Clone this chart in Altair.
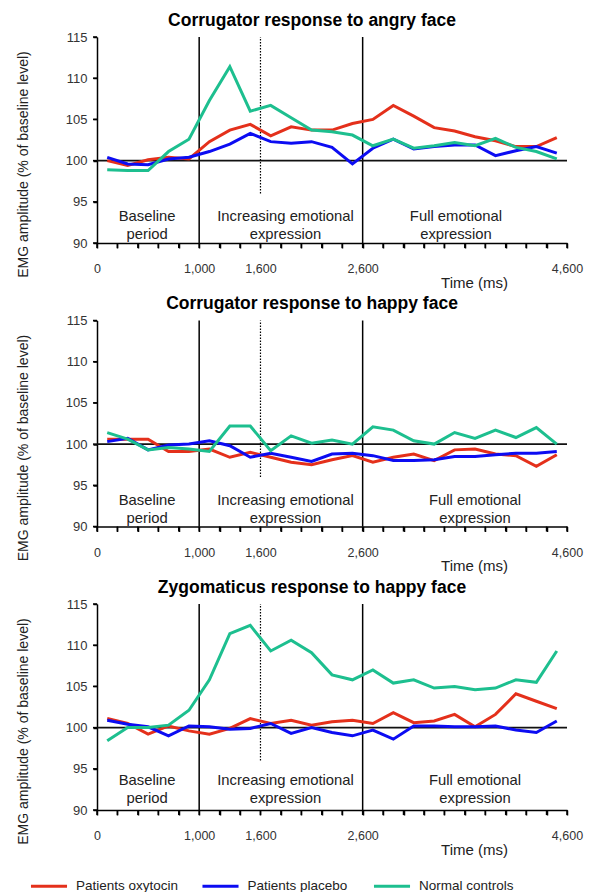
import altair as alt
import pandas as pd

# Sample times (ms) of the averaged EMG windows
time_ms = [100, 300, 500, 700, 900, 1100, 1300, 1500, 1700, 1900, 2100, 2300,
           2500, 2700, 2900, 3100, 3300, 3500, 3700, 3900, 4100, 4300, 4500]

groups = ["Patients oxytocin", "Patients placebo", "Normal controls"]
group_colors = ["#e4301b", "#0c0cf2", "#1dbf8f"]

# Corrugator response to angry face
angry_oxytocin = [100.0, 99.4, 100.1, 100.4, 100.2, 102.3, 103.7, 104.4, 103.0, 104.1, 103.7, 103.7,
                  104.5, 105.0, 106.7, 105.4, 104.0, 103.6, 102.9, 102.4, 101.7, 101.7, 102.8]
angry_placebo = [100.4, 99.6, 99.5, 100.2, 100.4, 101.1, 102.0, 103.3, 102.3, 102.1, 102.3, 101.6,
                 99.6, 101.5, 102.6, 101.4, 101.7, 101.9, 101.9, 100.6, 101.2, 101.7, 100.9]
angry_controls = [98.9, 98.8, 98.8, 101.1, 102.6, 107.3, 111.4, 106.0, 106.7, 105.2, 103.7, 103.5,
                  103.1, 101.8, 102.6, 101.5, 101.8, 102.2, 101.8, 102.7, 101.6, 101.1, 100.2]

# Corrugator response to happy face
happy_corr_oxytocin = [100.6, 100.6, 100.6, 99.1, 99.1, 99.4, 98.4, 99.0, 98.4, 97.8, 97.5, 98.1,
                       98.6, 97.8, 98.4, 98.8, 98.0, 99.3, 99.4, 98.8, 98.6, 97.3, 98.7]
happy_corr_placebo = [100.3, 100.7, 99.3, 99.9, 100.0, 100.4, 99.8, 98.4, 98.9, 98.4, 97.9, 98.8,
                      98.9, 98.6, 98.0, 98.0, 98.1, 98.5, 98.5, 98.7, 98.9, 98.9, 99.1]
happy_corr_controls = [101.4, 100.6, 99.3, 99.6, 99.4, 99.1, 102.2, 102.2, 99.2, 101.0, 100.1, 100.5,
                       100.0, 102.1, 101.7, 100.4, 100.0, 101.4, 100.7, 101.7, 100.8, 102.0, 100.0]

# Zygomaticus response to happy face
happy_zyg_oxytocin = [101.1, 100.5, 99.2, 100.2, 99.6, 99.2, 99.9, 101.1, 100.5, 100.9, 100.3, 100.7,
                      100.9, 100.5, 101.8, 100.6, 100.8, 101.6, 100.1, 101.6, 104.1, 103.2, 102.3]
happy_zyg_placebo = [100.9, 100.4, 100.1, 99.0, 100.2, 100.1, 99.8, 99.9, 100.5, 99.3, 100.0, 99.4,
                     99.0, 99.7, 98.6, 100.2, 100.2, 100.1, 100.1, 100.2, 99.7, 99.4, 100.8]
happy_zyg_controls = [98.4, 100.0, 100.0, 100.3, 102.1, 105.8, 111.4, 112.4, 109.3, 110.6, 109.1, 106.4,
                      105.8, 107.0, 105.4, 105.8, 104.8, 105.0, 104.6, 104.8, 105.8, 105.5, 109.3]

panel_titles = ["Corrugator response to angry face",
                "Corrugator response to happy face",
                "Zygomaticus response to happy face"]

# Phase captions and their anchor points (time, amplitude) per panel
phase_labels = ["Baseline\nperiod", "Increasing emotional\nexpression", "Full emotional\nexpression"]
phase_label_times = [[490, 1845, 3513], [490, 1845, 3700], [490, 1845, 3700]]
phase_label_amps = [93.2, 93.1, 93.5]

x_label_values = [0, 1000, 1600, 2600, 4600]
x_tick_values = list(range(0, 4601, 200))
y_tick_values = [90, 95, 100, 105, 110, 115]
phase_bounds = [1000, 2600]
midpoint_ms = 1600

FONT = "Liberation Sans"
INK = "#222222"
W, H = 470, 206

label_list = "[" + ",".join(str(v) for v in x_label_values) + "]"
X_AXIS = alt.Axis(
    values=x_tick_values,
    labelExpr=f"indexof({label_list}, datum.value) >= 0 ? format(datum.value, ',') : ''",
    title="Time (ms)", titleX=377, titleY=39, titleBaseline="middle", titleAnchor="start",
    titleAlign="center", titleFontSize=15, titleFontWeight="normal", titleFont=FONT, titleColor=INK,
    labelFont=FONT, labelFontSize=12.5, labelColor="#333333", labelPadding=14.5, labelFlush=False,
    labelOverlap=False, labelBound=False, ticks=True, tickSize=5, tickColor="#000000",
    tickWidth=1.5, tickOpacity=1, domainColor="#000000", domainWidth=1.5, grid=False,
)
Y_AXIS = alt.Axis(
    values=y_tick_values, title="EMG amplitude (% of baseline level)", titleX=-74, titleY=127,
    titleAngle=-90, titleAlign="center", titleBaseline="middle", titleAnchor="start",
    titleFontSize=14, titleFontWeight="normal", titleFont=FONT, titleColor=INK,
    labelFont=FONT, labelFontSize=13, labelColor="#333333", labelPadding=6, labelOverlap=False,
    ticks=True, tickSize=4, tickColor="#000000", tickWidth=1.5, tickOpacity=1,
    domainColor="#000000", domainWidth=1.5, grid=False,
)
X_SCALE = alt.Scale(domain=[0, 4600], nice=False, zero=False)
Y_SCALE = alt.Scale(domain=[90, 115], nice=False, zero=False)


def xq(field="time"):
    return alt.X(f"{field}:Q", scale=X_SCALE, axis=X_AXIS)


def yq(field="amp"):
    return alt.Y(f"{field}:Q", scale=Y_SCALE, axis=Y_AXIS)


def make_panel(title, series, label_times, label_amp):
    rows = []
    for g, vals in zip(groups, series):
        for t, v in zip(time_ms, vals):
            rows.append({"time": t, "amp": v, "group": g})
    df = pd.DataFrame(rows)

    # short tick marks hanging below the time axis and left of the amplitude axis
    x_ticks = alt.Chart(pd.DataFrame({"time": x_tick_values, "amp": [90] * len(x_tick_values)})).mark_tick(
        orient="vertical", size=5, thickness=1.5, yOffset=2.5, color="#000", opacity=1
    ).encode(x=xq(), y=yq())
    y_ticks = alt.Chart(pd.DataFrame({"time": [0] * len(y_tick_values), "amp": y_tick_values})).mark_tick(
        orient="horizontal", size=4, thickness=1.5, xOffset=-2, color="#000", opacity=1
    ).encode(x=xq(), y=yq())

    baseline = alt.Chart(pd.DataFrame({"amp": [100]})).mark_rule(
        color="#111", strokeWidth=1.8
    ).encode(y=yq())

    bounds = alt.Chart(pd.DataFrame({"time": phase_bounds})).mark_rule(
        color="#000", strokeWidth=1.5
    ).encode(x=xq())

    midline = alt.Chart(pd.DataFrame({"time": [midpoint_ms], "amp": [96], "amp_top": [115]})).mark_rule(
        color="#000", strokeWidth=1.2, strokeDash=[1.5, 1.5]
    ).encode(x=xq(), y=yq(), y2="amp_top:Q")

    lines = alt.Chart(df).mark_line(strokeWidth=3, strokeJoin="miter").encode(
        x=xq(), y=yq(),
        color=alt.Color(
            "group:N", sort=groups,
            scale=alt.Scale(domain=groups, range=group_colors),
            legend=alt.Legend(
                title=None, orient="none", legendX=-68, legendY=829, direction="horizontal",
                columns=3, symbolType="stroke", symbolSize=1300, symbolStrokeWidth=3,
                labelFont=FONT, labelFontSize=13.5, labelColor=INK, labelOffset=7,
                gridAlign="all", columnPadding=16.5,
            ),
        ),
        detail="group:N",
    )

    captions = alt.Chart(pd.DataFrame({
        "time": label_times, "amp": [label_amp] * 3, "label": phase_labels,
    })).mark_text(
        font=FONT, fontSize=14.8, color=INK, lineBreak="\n", lineHeight=18,
        align="center", baseline="middle",
    ).encode(x=xq(), y=yq(), text="label:N")

    return alt.layer(x_ticks, y_ticks, bounds, baseline, midline, captions, lines).properties(
        width=W, height=H,
        title=alt.TitleParams(title, font=FONT, fontSize=17.5, fontWeight="bold", color="#000",
                              anchor="middle", dx=-20, offset=2),
    )


panels = [
    make_panel(panel_titles[0], [angry_oxytocin, angry_placebo, angry_controls],
               phase_label_times[0], phase_label_amps[0]),
    make_panel(panel_titles[1], [happy_corr_oxytocin, happy_corr_placebo, happy_corr_controls],
               phase_label_times[1], phase_label_amps[1]),
    make_panel(panel_titles[2], [happy_zyg_oxytocin, happy_zyg_placebo, happy_zyg_controls],
               phase_label_times[2], phase_label_amps[2]),
]

chart = alt.vconcat(*panels, spacing=4.5).properties(
    padding={"left": 15, "top": 11, "right": 5, "bottom": 5},
    background="white",
).configure_view(stroke=None)

chart.save("out.html", embed_options={"renderer": "svg", "actions": False})
